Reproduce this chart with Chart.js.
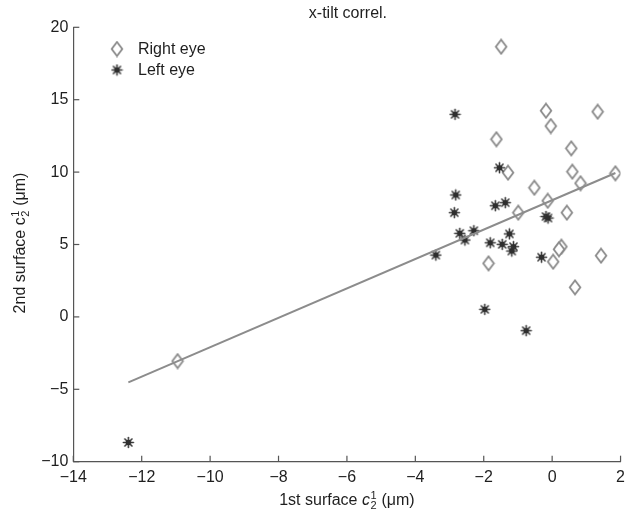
<!DOCTYPE html>
<html>
<head>
<meta charset="utf-8">
<script src="https://cdn.jsdelivr.net/npm/chart.js@4/dist/chart.umd.min.js"></script>
<style>
  html, body { margin: 0; padding: 0; background: #fff; }
  #wrap { width: 631px; height: 514px; }
</style>
</head>
<body>
<div id="wrap"><canvas id="c" width="631" height="514"></canvas></div>
<script>
// Series names
const seriesNames = ['Right eye', 'Left eye'];

// Right eye: 1st surface vs 2nd surface x-tilt (µm)
const rightX = [-1.49, -0.18, 1.33, -0.04, -1.63, 0.56, -1.29, 0.59, 1.85, 0.83, -0.52,
                -0.13, -0.99, 0.43, 0.27, 0.20, 0.03, 1.43, -1.86, 0.67, -10.95];
const rightY = [18.66, 14.24, 14.17, 13.18, 12.27, 11.64, 9.96, 10.03, 9.92, 9.23, 8.92,
                8.02, 7.20, 7.20, 4.85, 4.67, 3.81, 4.23, 3.70, 2.04, -3.05];

// Left eye
const leftX = [-2.84, -1.54, -2.82, -2.86, -1.66, -1.37, -0.18, -0.12, -3.40, -2.70, -2.55,
               -2.29, -1.81, -1.46, -1.25, -1.13, -1.18, -0.31, -1.97, -0.76, -12.39];
const leftY = [13.99, 10.30, 8.42, 7.20, 7.68, 7.89, 6.93, 6.83, 4.27, 5.77, 5.31,
               5.95, 5.12, 5.01, 5.73, 4.85, 4.55, 4.12, 0.52, -0.95, -8.67];

// Regression line end points
const fitX = [-12.39, 1.85];
const fitY = [-4.52, 9.94];

// Axis ticks
const xTickValues = [-14, -12, -10, -8, -6, -4, -2, 0, 2];
const yTickValues = [-10, -5, 0, 5, 10, 15, 20];

const titleText = 'x-tilt correl.';

const FONT = '"Liberation Sans", Arial, Helvetica, sans-serif';
const AXIS_COLOR = '#555';
const TEXT_COLOR = '#1e1e1e';

function toPoints(xs, ys) { return xs.map((x, i) => ({ x: x, y: ys[i] })); }

// Marker images
function diamondMarker() {
  const c = document.createElement('canvas');
  c.width = 14; c.height = 17;
  const g = c.getContext('2d');
  g.beginPath();
  g.moveTo(7, 1.5); g.lineTo(12.3, 8.5); g.lineTo(7, 15.5); g.lineTo(1.7, 8.5); g.closePath();
  g.fillStyle = '#fff'; g.fill();
  g.strokeStyle = '#8a8a8a'; g.lineWidth = 1.8; g.stroke();
  return c;
}
function starMarker() {
  const c = document.createElement('canvas');
  c.width = 13; c.height = 13;
  const g = c.getContext('2d');
  g.strokeStyle = '#3a3a3a'; g.lineWidth = 1.6; g.lineCap = 'round';
  for (let k = 0; k < 8; k++) {
    const a = k * Math.PI / 4;
    g.beginPath();
    g.moveTo(6.5, 6.5);
    g.lineTo(6.5 + 5 * Math.cos(a), 6.5 + 5 * Math.sin(a));
    g.stroke();
  }
  g.beginPath(); g.arc(6.5, 6.5, 2.8, 0, Math.PI * 2);
  g.fillStyle = '#2e2e2e'; g.fill();
  return c;
}
const diamondImg = diamondMarker();
const starImg = starMarker();

// Draw a label with a stacked super/subscript (c with 1 above, 2 below)
function drawRichLabel(ctx, prefix, sym, italicSym, cx, cy, rotate) {
  const base = '16px ' + FONT;
  const symFont = (italicSym ? 'italic ' : '') + '16px ' + FONT;
  const small = '11px ' + FONT;
  const suffix = ' (\u03BCm)';
  ctx.save();
  ctx.translate(cx, cy);
  if (rotate) ctx.rotate(-Math.PI / 2);
  ctx.fillStyle = TEXT_COLOR;
  ctx.textBaseline = 'alphabetic';
  ctx.font = base; const w1 = ctx.measureText(prefix).width;
  ctx.font = symFont; const w2 = ctx.measureText(sym).width;
  ctx.font = small; const w3 = Math.max(ctx.measureText('1').width, ctx.measureText('2').width) + 1;
  ctx.font = base; const w4 = ctx.measureText(suffix).width;
  const total = w1 + w2 + w3 + w4;
  let x = -total / 2;
  const yb = 5.5;
  ctx.textAlign = 'left';
  ctx.font = base; ctx.fillText(prefix, x, yb); x += w1;
  ctx.font = symFont; ctx.fillText(sym, x, yb); x += w2;
  ctx.font = small; ctx.fillText('1', x + 0.5, yb - 6); ctx.fillText('2', x + 0.5, yb + 4); x += w3;
  ctx.font = base; ctx.fillText(suffix, x, yb);
  ctx.restore();
}

const decorPlugin = {
  id: 'decor',
  afterDraw(chart) {
    const ctx = chart.ctx;
    const xs = chart.scales.x, ys = chart.scales.y;
    const area = chart.chartArea;
    // inward ticks
    ctx.save();
    ctx.strokeStyle = AXIS_COLOR; ctx.lineWidth = 1.2;
    xTickValues.forEach(v => {
      const p = xs.getPixelForValue(v);
      ctx.beginPath(); ctx.moveTo(p, area.bottom); ctx.lineTo(p, area.bottom - 6); ctx.stroke();
    });
    yTickValues.forEach(v => {
      const p = ys.getPixelForValue(v);
      ctx.beginPath(); ctx.moveTo(area.left, p); ctx.lineTo(area.left + 6, p); ctx.stroke();
    });
    ctx.restore();

    // title
    ctx.save();
    ctx.fillStyle = TEXT_COLOR;
    ctx.font = '16px ' + FONT;
    ctx.textAlign = 'center'; ctx.textBaseline = 'middle';
    ctx.fillText(titleText, (area.left + area.right) / 2 + 1, 14);
    ctx.restore();

    // legend
    const ds = chart.data.datasets;
    const legendRows = [
      { img: diamondImg, label: ds[0].label, y: 49 },
      { img: starImg, label: ds[1].label, y: 70 }
    ];
    ctx.save();
    ctx.font = '16px ' + FONT;
    ctx.fillStyle = TEXT_COLOR;
    ctx.textAlign = 'left'; ctx.textBaseline = 'middle';
    legendRows.forEach(r => {
      ctx.drawImage(r.img, 117 - r.img.width / 2, r.y - r.img.height / 2);
      ctx.fillText(r.label, 138, r.y + 1);
    });
    ctx.restore();

    // axis titles
    drawRichLabel(ctx, '1st surface ', 'c', true, (area.left + area.right) / 2, 499, false);
    drawRichLabel(ctx, '2nd surface ', 'c', false, 19, 243, true);
  }
};

const minus = v => String(v).replace('-', '\u2212');

new Chart(document.getElementById('c'), {
  type: 'scatter',
  data: {
    datasets: [
      {
        label: seriesNames[0],
        data: toPoints(rightX, rightY),
        pointStyle: diamondImg,
        pointRadius: 7,
        order: 2
      },
      {
        label: seriesNames[1],
        data: toPoints(leftX, leftY),
        pointStyle: starImg,
        pointRadius: 6,
        order: 1
      },
      {
        label: 'fit',
        data: toPoints(fitX, fitY),
        showLine: true,
        borderColor: '#8c8c8c',
        borderWidth: 2,
        pointRadius: 0,
        order: 0
      }
    ]
  },
  options: {
    responsive: false,
    animation: false,
    events: [],
    layout: { padding: { left: 0, right: 5.7, top: 27.3, bottom: 0 } },
    plugins: { legend: { display: false }, title: { display: false }, tooltip: { enabled: false } },
    scales: {
      x: {
        type: 'linear',
        min: -14, max: 2,
        afterBuildTicks: s => { s.ticks = xTickValues.map(v => ({ value: v })); },
        afterFit: s => { s.height = 52.3; },
        grid: { display: false, drawTicks: false },
        border: { display: true, color: AXIS_COLOR, width: 1.2 },
        ticks: { color: TEXT_COLOR, font: { family: FONT, size: 16 }, padding: 6, maxRotation: 0,
                 callback: v => minus(v) }
      },
      y: {
        type: 'linear',
        min: -10, max: 20,
        afterBuildTicks: s => { s.ticks = yTickValues.map(v => ({ value: v })); },
        afterFit: s => { s.width = 73.3; },
        grid: { display: false, drawTicks: false },
        border: { display: true, color: AXIS_COLOR, width: 1.2 },
        ticks: { color: TEXT_COLOR, font: { family: FONT, size: 16 }, padding: 5,
                 callback: v => minus(v) }
      }
    }
  },
  plugins: [decorPlugin]
});
</script>
</body>
</html>
